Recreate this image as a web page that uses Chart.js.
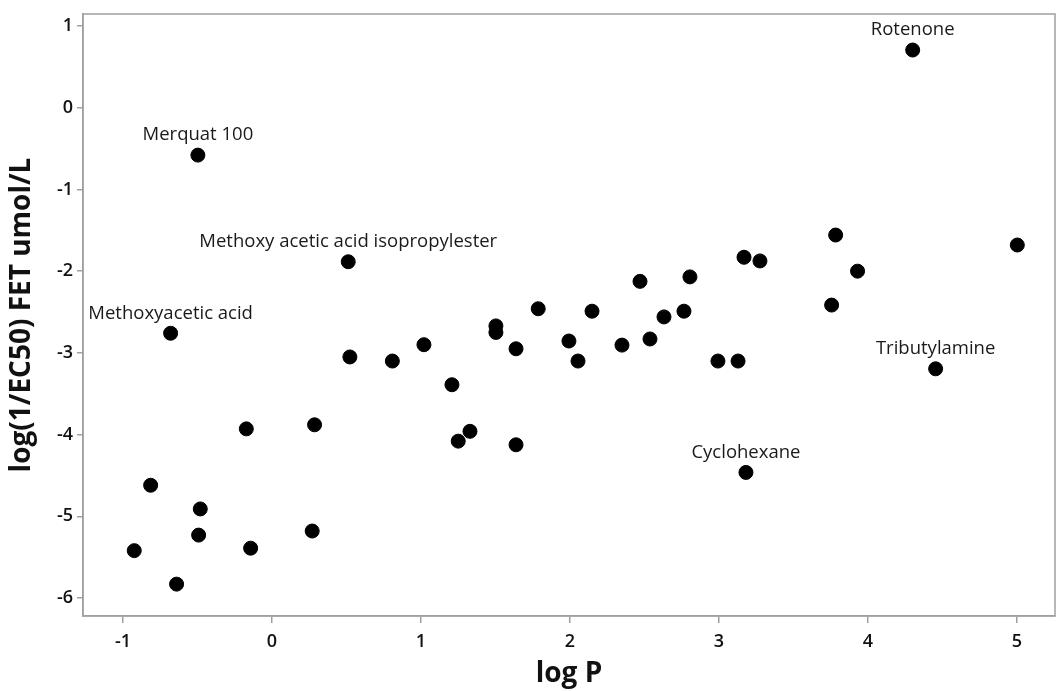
<!DOCTYPE html>
<html>
<head>
<meta charset="utf-8">
<script src="https://cdn.jsdelivr.net/npm/chart.js@4.4.1/dist/chart.umd.min.js"></script>
<style>
  html, body { margin: 0; padding: 0; background: #fff; overflow: hidden; }
  canvas { display: block; }
</style>
</head>
<body>
<canvas id="grafico" width="1057" height="691"></canvas>
<script>
// dados
const logP = [
  -0.924, -0.814, -0.64, -0.492, -0.481, -0.172, -0.143, -0.68, -0.497, 0.27,
  0.286, 0.512, 0.523, 0.808, 1.02, 1.208, 1.25, 1.329, 1.503, 1.503,
  1.638, 1.638, 1.787, 1.993, 2.054, 2.148, 2.349, 2.47, 2.537, 2.631,
  2.765, 2.805, 2.993, 3.128, 3.168, 3.275, 3.181, 3.756, 3.783, 3.93,
  4.30, 4.454, 5.002
];
const logEC = [
  -5.42, -4.62, -5.83, -5.23, -4.91, -3.93, -5.39, -2.76, -0.58, -5.18,
  -3.88, -1.885, -3.05, -3.10, -2.90, -3.39, -4.08, -3.96, -2.67, -2.75,
  -2.95, -4.125, -2.46, -2.855, -3.10, -2.49, -2.905, -2.125, -2.83, -2.56,
  -2.49, -2.07, -3.10, -3.10, -1.83, -1.875, -4.463, -2.415, -1.558, -2.0,
  0.706, -3.195, -1.68
];
// nomes dos pontos rotulados (mesmo indice dos arrays acima)
const nomes = {
  7: 'Methoxyacetic acid',
  8: 'Merquat 100',
  11: 'Methoxy acetic acid isopropylester',
  36: 'Cyclohexane',
  40: 'Rotenone',
  41: 'Tributylamine'
};
const xTicks = [-1, 0, 1, 2, 3, 4, 5];
const yTicks = [-6, -5, -4, -3, -2, -1, 0, 1];

const FONTE = "'Open Sans', 'Noto Sans', sans-serif";
const CINZA = '#a0a0a0';

// moldura em volta da area do grafico
const moldura = {
  id: 'moldura',
  afterDraw(chart) {
    const { ctx, chartArea: a } = chart;
    ctx.save();
    ctx.strokeStyle = CINZA;
    ctx.lineWidth = 1.5;
    ctx.strokeRect(a.left, a.top, a.right - a.left, a.bottom - a.top);
    ctx.restore();
  }
};

// rotulos acima dos pontos
const rotulos = {
  id: 'rotulos',
  afterDatasetsDraw(chart) {
    const { ctx, scales } = chart;
    ctx.save();
    ctx.font = `18.5px ${FONTE}`;
    ctx.fillStyle = '#1a1a1a';
    ctx.textAlign = 'center';
    ctx.textBaseline = 'middle';
    Object.keys(nomes).forEach(i => {
      const px = scales.x.getPixelForValue(logP[i]);
      const py = scales.y.getPixelForValue(logEC[i]);
      ctx.fillText(nomes[i], px, py - 20);
    });
    ctx.restore();
  }
};

const pontos = logP.map((v, i) => ({ x: v, y: logEC[i] }));

new Chart(document.getElementById('grafico'), {
  type: 'scatter',
  data: {
    datasets: [{
      data: pontos,
      backgroundColor: '#000',
      borderColor: '#000',
      pointRadius: 7,
      pointHoverRadius: 7
    }]
  },
  options: {
    responsive: false,
    animation: false,
    layout: { autoPadding: false, padding: { top: 14, right: 2, left: 0, bottom: 0 } },
    plugins: { legend: { display: false }, tooltip: { enabled: false } },
    scales: {
      x: {
        type: 'linear',
        min: -1.268,
        max: 5.255,
        afterBuildTicks: axis => { axis.ticks = xTicks.map(v => ({ value: v })); },
        afterFit: axis => { axis.height = 75; axis.paddingLeft = 0; axis.paddingRight = 0; },
        grid: { drawOnChartArea: false, drawTicks: true, tickLength: 7, color: CINZA, lineWidth: 1.5 },
        border: { color: CINZA, width: 1.5 },
        ticks: { color: '#111', font: { family: FONTE, size: 18, weight: '600' }, padding: 8, maxRotation: 0 },
        title: { display: true, text: 'log P', color: '#111', font: { family: FONTE, size: 28, weight: 'bold' }, padding: { top: 0, bottom: 0 } }
      },
      y: {
        type: 'linear',
        min: -6.22,
        max: 1.147,
        afterBuildTicks: axis => { axis.ticks = yTicks.map(v => ({ value: v })); },
        afterFit: axis => { axis.width = 83; axis.paddingTop = 0; axis.paddingBottom = 0; },
        grid: { drawOnChartArea: false, drawTicks: true, tickLength: 6, color: CINZA, lineWidth: 1.5 },
        border: { color: CINZA, width: 1.5 },
        ticks: { color: '#111', font: { family: FONTE, size: 18, weight: '600' }, padding: 4 },
        title: { display: true, text: 'log(1/EC50) FET umol/L', color: '#111', font: { family: FONTE, size: 28, weight: 'bold' }, padding: { top: 5, bottom: 0 } }
      }
    }
  },
  plugins: [moldura, rotulos]
});
</script>
</body>
</html>
